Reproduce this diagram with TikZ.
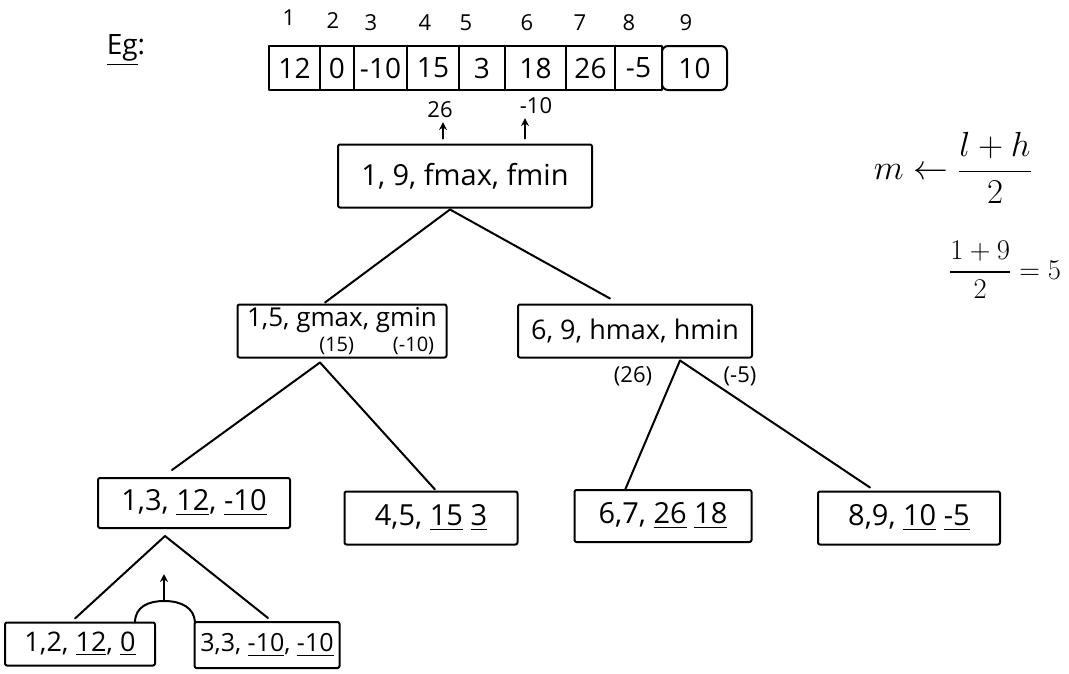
\documentclass[tikz,border=0pt]{standalone}
\usepackage{amsmath}
\usepackage{graphicx}
\usepackage{fontspec}
\setmainfont{Open Sans}
\usetikzlibrary{calc,arrows.meta}
% a word with a small value written centred below it
\newcommand{\under}[2]{\vtop{\halign{\hfil##\hfil\cr #1\cr\noalign{\kern-5pt}{\fontsize{20}{22}\selectfont #2}\cr}}}
\begin{document}
\begin{tikzpicture}[x=1pt,y=-1pt,
  every node/.style={inner sep=0pt,outer sep=0pt},
  ink/.style={line width=2pt,line cap=round,line join=round},
  txt/.style={font=\fontsize{29}{34}\selectfont},
  small/.style={font=\fontsize{22}{26}\selectfont},
  cell/.style={ink,draw,minimum height=44pt,font=\fontsize{28}{32}\selectfont},
  tbox/.style={ink,draw,rounded corners=2pt,txt},
  edge/.style={ink},
  up/.style={ink,-{Stealth[length=8pt,width=8pt]}}]
\useasboundingbox (0,0) rectangle (1069,673);

% heading
\node[font=\fontsize{28}{32}\selectfont] (eg) at (126,50) {\underline{Eg}:};

% the array, one cell per element
\node[cell,minimum width=51pt] (c1) at (294.5,68) {12};
\node[cell,minimum width=34pt] (c2) at (337,68) {0};
\node[cell,minimum width=53pt] (c3) at (380.5,68) {-10};
\node[cell,minimum width=52pt] (c4) at (433,68) {15};
\node[cell,minimum width=46pt] (c5) at (482,68) {3};
\node[cell,minimum width=61pt] (c6) at (535.5,68) {18};
\node[cell,minimum width=49pt] (c7) at (590.5,68) {26};
\node[cell,minimum width=47pt] (c8) at (638.5,68) {-5};
\node[cell,minimum width=65pt,rounded corners=6pt] (c9) at (694.5,68) {10};

% indices above the cells
\node[small] (i1) at (289,18) {1};
\node[small] (i2) at (333,21) {2};
\node[small] (i3) at (371,23) {3};
\node[small] (i4) at (425,23) {4};
\node[small] (i5) at (466,23) {5};
\node[small] (i6) at (527,23) {6};
\node[small] (i7) at (580,23) {7};
\node[small] (i8) at (629,23) {8};
\node[small] (i9) at (686,23) {9};

% recursion tree
\node[tbox,minimum width=254pt,minimum height=63pt] (root) at (465,176) {1, 9, fmax, fmin};
\node[tbox,minimum width=209pt,minimum height=53pt,font=\fontsize{26}{30}\selectfont] (gl) at (342,331)
  {1,5, g\under{max}{(15)}, g\under{min}{(-10)}};
\node[tbox,minimum width=234pt,minimum height=53pt,font=\fontsize{27}{32}\selectfont] (hr) at (635,331) {6, 9, hmax, hmin};
\node[tbox,minimum width=192pt,minimum height=50pt] (a) at (194,503) {1,3, \underline{12}, \underline{-10}};
\node[tbox,minimum width=173pt,minimum height=53pt] (b) at (431,518) {4,5, \underline{15} \underline{3}};
\node[tbox,minimum width=177pt,minimum height=52pt] (c) at (663,516) {6,7, \underline{26} \underline{18}};
\node[tbox,minimum width=182pt,minimum height=53pt] (d) at (909,518) {8,9, \underline{10} \underline{-5}};
\node[tbox,minimum width=150pt,minimum height=43pt,font=\fontsize{27}{32}\selectfont] (e) at (80,644) {1,2, \underline{12}, \underline{0}};
\node[tbox,minimum width=145pt,minimum height=46pt,font=\fontsize{25}{30}\selectfont] (f) at (267,645) {3,3, \underline{-10}, \underline{-10}};

% values returned to the root
\node[small] (rmax) at (440,110) {26};
\node[small] (rmin) at (536,106) {-10};
\draw[up] ($(root.north)+(-22,-6)$) -- ($(rmax.south)+(3,4)$);
\draw[up] ($(root.north)+(60,-6)$) -- ($(rmin.south)+(-11,4)$);

% partial results
\node[small] (h26) at (633,376) {(26)};
\node[small] (h5) at (740,376) {(-5)};

% tree connectors
\coordinate (rt) at ($(root.south)+(-15,2)$);
\draw[edge] (rt) -- ($(gl.north)+(-17,-2)$);
\draw[edge] (rt) -- ($(hr.north)+(-25,-6)$);
\coordinate (gt) at ($(gl.south)+(-22,5)$);
\draw[edge] (gt) -- ($(a.north)+(-22,-8)$);
\draw[edge] (gt) -- ($(b.north)+(4,-2)$);
\coordinate (ht) at ($(hr.south)+(45,3)$);
\draw[edge] (ht) -- ($(c.north)+(-38,0)$);
\draw[edge] (ht) -- ($(d.north)+(-39,-4)$);
\coordinate (at) at ($(a.south)+(-29,8)$);
\draw[edge] (at) -- ($(e.north)+(-5,-4)$);
\draw[edge] (at) -- ($(f.north)+(1,-4)$);

% combining the two halves
\coordinate (arch) at (164,601);
\draw[edge] ($(e.north)+(55,0)$) .. controls (135,607) and (148,601) .. (arch)
  .. controls (182,601) and (194,608) .. ($(f.north)+(-72,0)$);
\draw[up] (arch) -- (164,574);

% midpoint rule
\node[font=\fontsize{24}{28}\selectfont] (mid) at (953,168) {\scalebox{1.4}{$m \leftarrow \dfrac{l+h}{2}$}};
\node[font=\fontsize{24}{28}\selectfont] (ex) at (1005,270) {\scalebox{1.15}{$\dfrac{1+9}{2} = 5$}};
\end{tikzpicture}
\end{document}
